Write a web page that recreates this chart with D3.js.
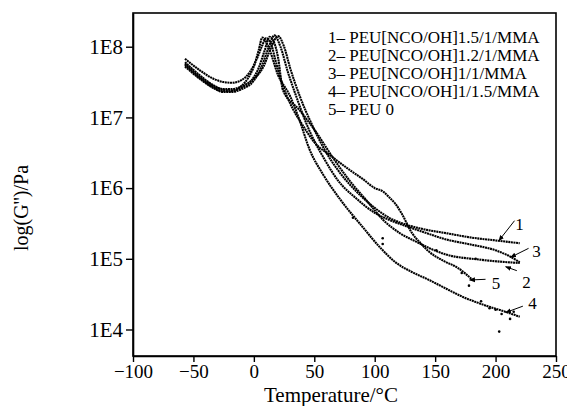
<!DOCTYPE html>
<html><head><meta charset="utf-8">
<script src="https://cdn.jsdelivr.net/npm/d3@7"></script>
<style>body{margin:0;background:#fff}svg{display:block}text{font-family:"Liberation Serif","Times New Roman",serif;fill:#000}</style>
</head><body><svg id="c" width="567" height="406"></svg>
<script>
// ---- data (temperature °C, log10 G'' in Pa) ----
const seriesNames = ["1– PEU[NCO/OH]1.5/1/MMA","2– PEU[NCO/OH]1.2/1/MMA","3– PEU[NCO/OH]1/1/MMA","4– PEU[NCO/OH]1/1.5/MMA","5– PEU 0"];
const s1T = [-57,-45,-35,-25,-18,-10,0,8,14,20,25,30,38,48,60,72,85,100,112,123,140,160,180,200,220];
const s1L = [7.78,7.60,7.47,7.40,7.40,7.44,7.55,7.72,7.98,8.15,8.00,7.70,7.30,6.90,6.50,6.20,5.95,5.72,5.58,5.50,5.42,5.36,5.30,5.26,5.22];
const s2T = [-57,-45,-35,-25,-18,-10,-2,4,9,13,17,20,24,38,52,65,79,93,107,121,131,159,186,220];
const s2L = [7.76,7.58,7.46,7.39,7.38,7.42,7.52,7.70,7.95,8.14,8.05,7.85,7.39,7.10,6.78,6.44,6.11,5.83,5.55,5.36,5.27,5.06,4.99,4.94];
const s3T = [-57,-45,-35,-25,-18,-10,0,6,12,17,22,28,35,45,57,70,85,100,112,123,140,160,180,200,210,220];
const s3L = [7.72,7.55,7.43,7.36,7.36,7.40,7.52,7.70,7.98,8.16,8.00,7.65,7.30,6.85,6.45,6.10,5.85,5.65,5.55,5.48,5.38,5.27,5.20,5.12,5.05,4.95];
const s4T = [-57,-45,-35,-25,-18,-10,-5,0,4,7,12,20,30,38,46,57,71,90,105,118,130,145,160,173,185,195,210,220];
const s4L = [7.74,7.56,7.44,7.37,7.37,7.45,7.55,7.72,7.95,8.13,8.00,7.60,7.30,6.95,6.55,6.20,5.85,5.45,5.15,4.94,4.82,4.70,4.57,4.46,4.38,4.32,4.24,4.18];
const s5T = [-57,-45,-35,-25,-18,-10,-3,3,7,10,14,18,24,30,40,50,65,79,90,100,107,112,117,122,131,138,145,157,168,175,181];
const s5L = [7.83,7.67,7.56,7.50,7.49,7.53,7.65,7.85,8.02,8.12,8.05,7.80,7.45,7.20,6.90,6.65,6.44,6.26,6.13,6.00,5.95,5.87,5.78,5.65,5.36,5.22,5.10,4.97,4.88,4.79,4.70];
const strayT = [82,106.6,106.6,151,183.5,203,195,205,212,215,178,172,188,200];
const strayL = [5.58,5.29,5.21,5.12,5.00,3.97,4.30,4.22,4.15,4.25,4.62,4.80,4.40,4.28];
const xTicks = [-100,-50,0,50,100,150,200,250];
const yTicks = [1e4,1e5,1e6,1e7,1e8];
const yTickLabels = ["1E4","1E5","1E6","1E7","1E8"];
const noteLabels = ["1","3","2","5","4"];
const noteTextT = [217.4,231.4,223.1,197.8,228.1];
const noteTextL = [5.49,5.115,4.676,4.653,4.37];
const noteFromT = [215.7,227.3,217.6,191.7,222.6];
const noteFromL = [5.539,5.148,4.832,4.71,4.33];
const noteToT = [202.7,212.4,208.3,178.5,208.3];
const noteToL = [5.256,5.021,4.888,4.70,4.24];

const svg = d3.select("#c");
const M = {l:133, r:556, t:13, b:356};
const x = d3.scaleLinear().domain([-100,250]).range([M.l,M.r]);
const y = d3.scaleLog().domain([Math.pow(10,3.625),Math.pow(10,8.477)]).range([M.b,M.t]);
const P = L => y(Math.pow(10,L));

// frame
svg.append("rect").attr("x",M.l).attr("y",M.t).attr("width",M.r-M.l).attr("height",M.b-M.t)
  .attr("fill","none").attr("stroke","#000").attr("stroke-width",1.6);

// axes
const xa = svg.append("g").attr("transform",`translate(0,${M.b})`)
  .call(d3.axisBottom(x).tickValues(xTicks).tickSize(6).tickSizeOuter(0).tickFormat(d3.format("d")));
xa.selectAll("text").attr("font-size",19).attr("y",8).attr("dy","0.72em");
const ya = svg.append("g").attr("transform",`translate(${M.l},0)`)
  .call(d3.axisLeft(y).tickValues(yTicks).tickSize(7).tickSizeOuter(0).tickFormat((d,i)=>yTickLabels[i]));
ya.selectAll("text").attr("font-size",21).attr("x",-10);
svg.selectAll(".domain").attr("stroke-width",1.6);
svg.selectAll(".tick line").attr("stroke-width",1.4);

svg.append("text").attr("x",331).attr("y",402).attr("text-anchor","middle").attr("font-size",21).text("Temperature/°C");
svg.append("text").attr("transform","translate(28,208) rotate(-90)").attr("text-anchor","middle").attr("font-size",20).text("log(G'')/Pa");

// curves
const line = d3.line().x(d=>x(d[0])).y(d=>P(d[1])).curve(d3.curveMonotoneX);
const series = [[s1T,s1L],[s2T,s2L],[s3T,s3L],[s4T,s4L],[s5T,s5L]];
const g = svg.append("g");
series.forEach(([T,L])=>{
  const pts = T.map((t,i)=>[t,L[i]]);
  g.append("path").attr("d",line(pts)).attr("fill","none").attr("stroke","#000")
   .attr("stroke-width",2.1).attr("stroke-dasharray","2,0.6");
});
g.selectAll("circle.s").data(strayT.map((t,i)=>[t,strayL[i]])).join("circle")
  .attr("cx",d=>x(d[0])).attr("cy",d=>P(d[1])).attr("r",1.3).attr("fill","#000");

// legend
const lg = svg.append("g");
seriesNames.forEach((n,i)=>{
  lg.append("text").attr("x",328).attr("y",43+i*18).attr("font-size",17).text(n);
});

// annotations
svg.append("defs").append("marker").attr("id","ah").attr("viewBox","0 0 10 10").attr("refX",9).attr("refY",5)
  .attr("markerWidth",6).attr("markerHeight",6).attr("orient","auto")
  .append("path").attr("d","M0,1 L10,5 L0,9 Z").attr("fill","#000");
noteLabels.forEach((lab,i)=>{
  svg.append("line").attr("x1",x(noteFromT[i])).attr("y1",P(noteFromL[i]))
    .attr("x2",x(noteToT[i])).attr("y2",P(noteToL[i])).attr("stroke","#000").attr("stroke-width",1)
    .attr("marker-end","url(#ah)");
  svg.append("text").attr("x",x(noteTextT[i])+3).attr("y",P(noteTextL[i])).attr("dy","0.35em")
    .attr("text-anchor","middle").attr("font-size",17).text(lab);
});
</script></body></html>
